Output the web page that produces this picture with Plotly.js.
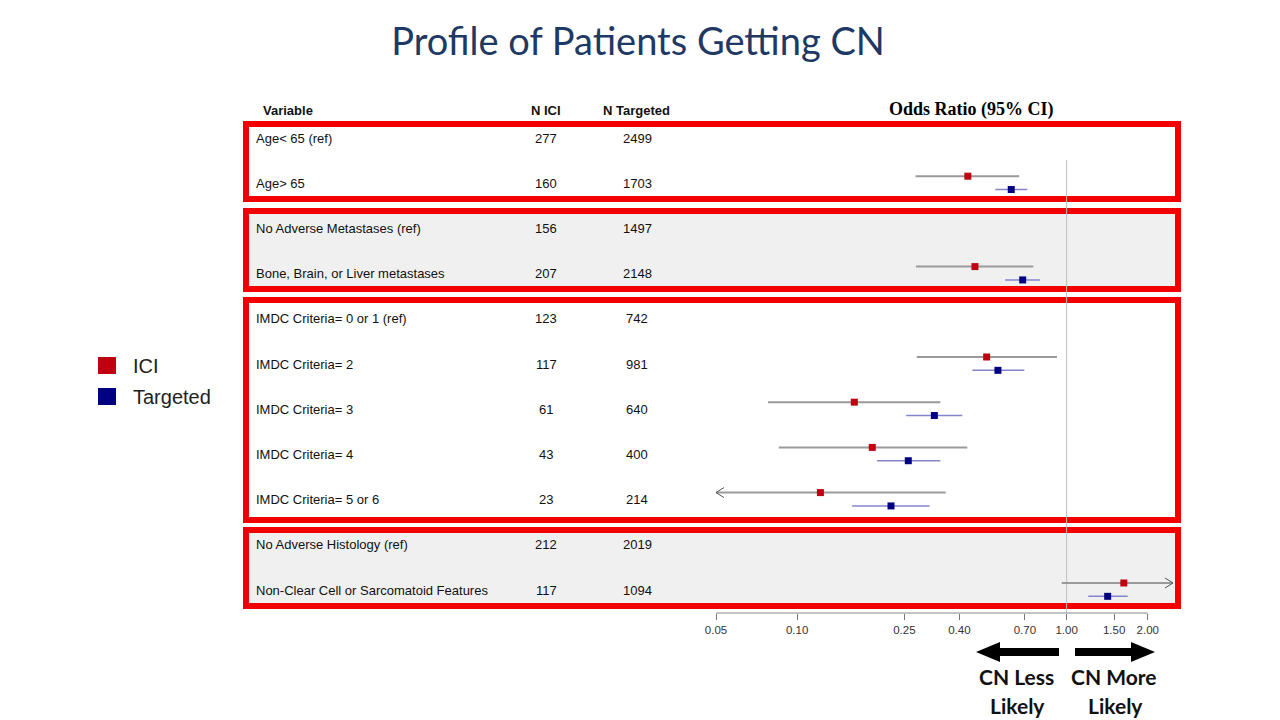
<!DOCTYPE html>
<html>
<head>
<meta charset="utf-8">
<script src="https://cdn.plot.ly/plotly-3.0.1.min.js"></script>
<style>html,body{margin:0;padding:0;background:#fff;}#chart{width:1280px;height:720px;}</style>
</head>
<body>
<div id="chart"></div>
<script>
// ---------- DATA ----------
const variables = [
  "Age< 65 (ref)", "Age> 65",
  "No Adverse Metastases (ref)", "Bone, Brain, or Liver metastases",
  "IMDC Criteria= 0 or 1 (ref)", "IMDC Criteria= 2", "IMDC Criteria= 3", "IMDC Criteria= 4", "IMDC Criteria= 5 or 6",
  "No Adverse Histology (ref)", "Non-Clear Cell or Sarcomatoid Features"
];
const nICI      = [277, 160, 156, 207, 123, 117, 61, 43, 23, 212, 117];
const nTargeted = [2499, 1703, 1497, 2148, 742, 981, 640, 400, 214, 2019, 1094];

const orICI   = [null, 0.43,  null, 0.457, null, 0.505, 0.163, 0.190,  0.122, null, 1.63];
const lowICI  = [null, 0.275, null, 0.276, null, 0.278, 0.078, 0.0855, 0.04,  null, 0.959];
const highICI = [null, 0.667, null, 0.752, null, 0.921, 0.340, 0.428,  0.356, null, 2.9];

const orTarg   = [null, 0.623, null, 0.687, null, 0.556, 0.323, 0.2585, 0.223, null, 1.42];
const lowTarg  = [null, 0.544, null, 0.591, null, 0.447, 0.254, 0.198,  0.160, null, 1.203];
const highTarg = [null, 0.714, null, 0.797, null, 0.697, 0.410, 0.340,  0.310, null, 1.685];

const tickVals   = [0.05, 0.10, 0.25, 0.40, 0.70, 1.00, 1.50, 2.00];
const tickLabels = ["0.05", "0.10", "0.25", "0.40", "0.70", "1.00", "1.50", "2.00"];

const seriesNames = ["ICI", "Targeted"];
const seriesColors = ["#c00010", "#000080"];

// groups (first row, last row, shaded)
const groupRows = [[0, 1], [2, 3], [4, 8], [9, 10]];
const groupShaded = [false, true, false, true];

// ---------- LAYOUT HELPERS ----------
const W = 1280, H = 720;
const px = x => x / W;
const py = y => 1 - y / H;
const ROW0 = 138, ROWSTEP = 45.2;
const yMin = -ROW0 / ROWSTEP, yMax = (H - ROW0) / ROWSTEP;
const PXDEC = 269.5;                         // pixels per decade
const X0PX = 716, X1PX = 1175;
const xRange = [Math.log10(0.05), Math.log10(0.05) + (X1PX - X0PX) / PXDEC];
const xLo = Math.pow(10, xRange[0]);
const xHi = Math.pow(10, xRange[1] - 2 / PXDEC);
const offICI = -0.155, offTarg = 0.14;
const FONT = "Arial";
const TSIZE = 13;

// ---------- TRACES ----------
function ciTrace(lo, hi, off, color, width, name) {
  const xs = [], ys = [];
  lo.forEach((l, i) => {
    if (l === null) return;
    xs.push(Math.max(l, xLo), Math.min(hi[i], xHi), null);
    ys.push(i + off, i + off, null);
  });
  return {type: "scatter", mode: "lines", x: xs, y: ys, name: name + " CI",
          line: {color: color, width: width}, hoverinfo: "skip", showlegend: false};
}
function arrowTrace(lo, hi, off, color) {
  const xs = [], ys = [];
  const f = Math.pow(10, 8 / PXDEC), dy = 5 / ROWSTEP;
  lo.forEach((l, i) => {
    if (l === null) return;
    if (l < xLo) { xs.push(xLo * f, xLo, xLo * f, null); ys.push(i + off - dy, i + off, i + off + dy, null); }
    if (hi[i] > xHi) { xs.push(xHi / f, xHi, xHi / f, null); ys.push(i + off - dy, i + off, i + off + dy, null); }
  });
  return {type: "scatter", mode: "lines", x: xs, y: ys, line: {color: color, width: 1},
          hoverinfo: "skip", showlegend: false};
}
function ptTrace(vals, off, color, name) {
  const xs = [], ys = [];
  vals.forEach((v, i) => { if (v !== null) { xs.push(v); ys.push(i + off); } });
  return {type: "scatter", mode: "markers", x: xs, y: ys, name: name,
          marker: {symbol: "square", size: 7, color: color}, showlegend: false};
}

const traces = [
  ciTrace(lowICI, highICI, offICI, "#9a9a9a", 2, "ICI"),
  arrowTrace(lowICI, highICI, offICI, "#555555"),
  ciTrace(lowTarg, highTarg, offTarg, "#8484cc", 1.5, "Targeted"),
  arrowTrace(lowTarg, highTarg, offTarg, "#555555"),
  ptTrace(orICI, offICI, seriesColors[0], seriesNames[0]),
  ptTrace(orTarg, offTarg, seriesColors[1], seriesNames[1])
];

// ---------- SHAPES ----------
const boxTop = [124, 211, 300, 530], boxBot = [199, 289, 520, 606];
const shapes = [];
groupRows.forEach((g, k) => {
  shapes.push({type: "rect", xref: "paper", yref: "paper", layer: "below",
    x0: px(246), x1: px(1178), y0: py(boxBot[k]), y1: py(boxTop[k]),
    line: {color: "#f20000", width: 6},
    fillcolor: groupShaded[k] ? "#f0f0f0" : "rgba(0,0,0,0)"});
});
// reference line at OR = 1
shapes.push({type: "line", xref: "x", yref: "paper", layer: "below", x0: 1, x1: 1,
  y0: py(160), y1: py(613), line: {color: "#bdbdbd", width: 1}});
// axis line
shapes.push({type: "line", xref: "x", yref: "paper", x0: tickVals[0], x1: tickVals[tickVals.length - 1],
  y0: py(613), y1: py(613), line: {color: "#8a8a8a", width: 1}});
// legend squares
seriesColors.forEach((c, k) => {
  const top = 357 + k * 31;
  shapes.push({type: "rect", xref: "paper", yref: "paper", x0: px(98), x1: px(116),
    y0: py(top + 17), y1: py(top), line: {width: 0}, fillcolor: c});
});
// big arrows
function arrowPath(tail, tip, yc) {
  const dir = Math.sign(tip - tail), headLen = 24, sh = 4, hh = 10;
  const hb = tip - dir * headLen;
  const pts = [[tail, yc - sh], [hb, yc - sh], [hb, yc - hh], [tip, yc], [hb, yc + hh], [hb, yc + sh], [tail, yc + sh]];
  return "M " + pts.map(p => px(p[0]) + "," + py(p[1])).join(" L ") + " Z";
}
shapes.push({type: "path", xref: "paper", yref: "paper", path: arrowPath(1059, 976, 652),
  fillcolor: "#000", line: {width: 0}});
shapes.push({type: "path", xref: "paper", yref: "paper", path: arrowPath(1075, 1155, 652),
  fillcolor: "#000", line: {width: 0}});

// ---------- ANNOTATIONS ----------
const ann = [];
function txt(x, y, text, opts) {
  ann.push(Object.assign({xref: "paper", yref: "paper", x: px(x), y: py(y), text: text,
    showarrow: false, xanchor: "left", yanchor: "middle",
    font: {family: FONT, size: TSIZE, color: "#111"}}, opts || {}));
}
// headers
txt(261, 110, "<b>Variable</b>", {font: {family: FONT, size: 13, color: "#111"}});
txt(546, 110, "<b>N ICI</b>", {xanchor: "center", font: {family: FONT, size: 13, color: "#111"}});
txt(636, 110, "<b>N Targeted</b>", {xanchor: "center", font: {family: FONT, size: 13, color: "#111"}});
txt(971, 109, "<b>Odds Ratio (95% CI)</b>", {xanchor: "center",
  font: {family: "Liberation Serif, Times New Roman, serif", size: 18, color: "#000"}});
// table rows
variables.forEach((v, i) => {
  ann.push({xref: "paper", yref: "y", x: px(254), y: i, text: v, showarrow: false,
    xanchor: "left", yanchor: "middle", font: {family: FONT, size: TSIZE, color: "#111"}});
  ann.push({xref: "paper", yref: "y", x: px(546), y: i, text: String(nICI[i]), showarrow: false,
    xanchor: "center", yanchor: "middle", font: {family: FONT, size: TSIZE, color: "#111"}});
  ann.push({xref: "paper", yref: "y", x: px(637), y: i, text: String(nTargeted[i]), showarrow: false,
    xanchor: "center", yanchor: "middle", font: {family: FONT, size: TSIZE, color: "#111"}});
});
// legend labels
seriesNames.forEach((n, k) => {
  txt(131, 366 + k * 31, n, {font: {family: FONT, size: 20, color: "#222"}});
});
// bottom labels
const bFont = {family: "Lato, Open Sans, sans-serif", size: 21, color: "#111", weight: 700};
txt(1016, 676, "<b>CN Less</b>", {xanchor: "center", font: bFont});
txt(1017, 705, "<b>Likely</b>", {xanchor: "center", font: bFont});
txt(1114, 676, "<b>CN More</b>", {xanchor: "center", font: bFont});
txt(1115, 705, "<b>Likely</b>", {xanchor: "center", font: bFont});

// ---------- LAYOUT ----------
const layout = {
  width: W, height: H,
  margin: {l: 0, r: 0, t: 0, b: 0, pad: 0},
  paper_bgcolor: "#ffffff", plot_bgcolor: "rgba(0,0,0,0)",
  showlegend: false,
  title: {text: "Profile of Patients Getting CN", x: px(638), xanchor: "center",
    y: py(42), yanchor: "middle", yref: "paper",
    font: {family: "Lato, sans-serif", size: 38, color: "#203864"}},
  xaxis: {type: "log", range: xRange, domain: [px(X0PX), px(X1PX)],
    anchor: "free", position: py(613), showline: false, showgrid: false, zeroline: false,
    tickmode: "array", tickvals: tickVals, ticktext: tickLabels,
    ticks: "outside", ticklen: 6, tickcolor: "#7a7a7a", tickwidth: 1,
    tickfont: {family: FONT, size: 11.5, color: "#333"}, fixedrange: true},
  yaxis: {range: [yMax, yMin], domain: [0, 1], visible: false, fixedrange: true},
  shapes: shapes,
  annotations: ann
};

Plotly.newPlot("chart", traces, layout, {displayModeBar: false, staticPlot: true});
</script>
</body>
</html>
